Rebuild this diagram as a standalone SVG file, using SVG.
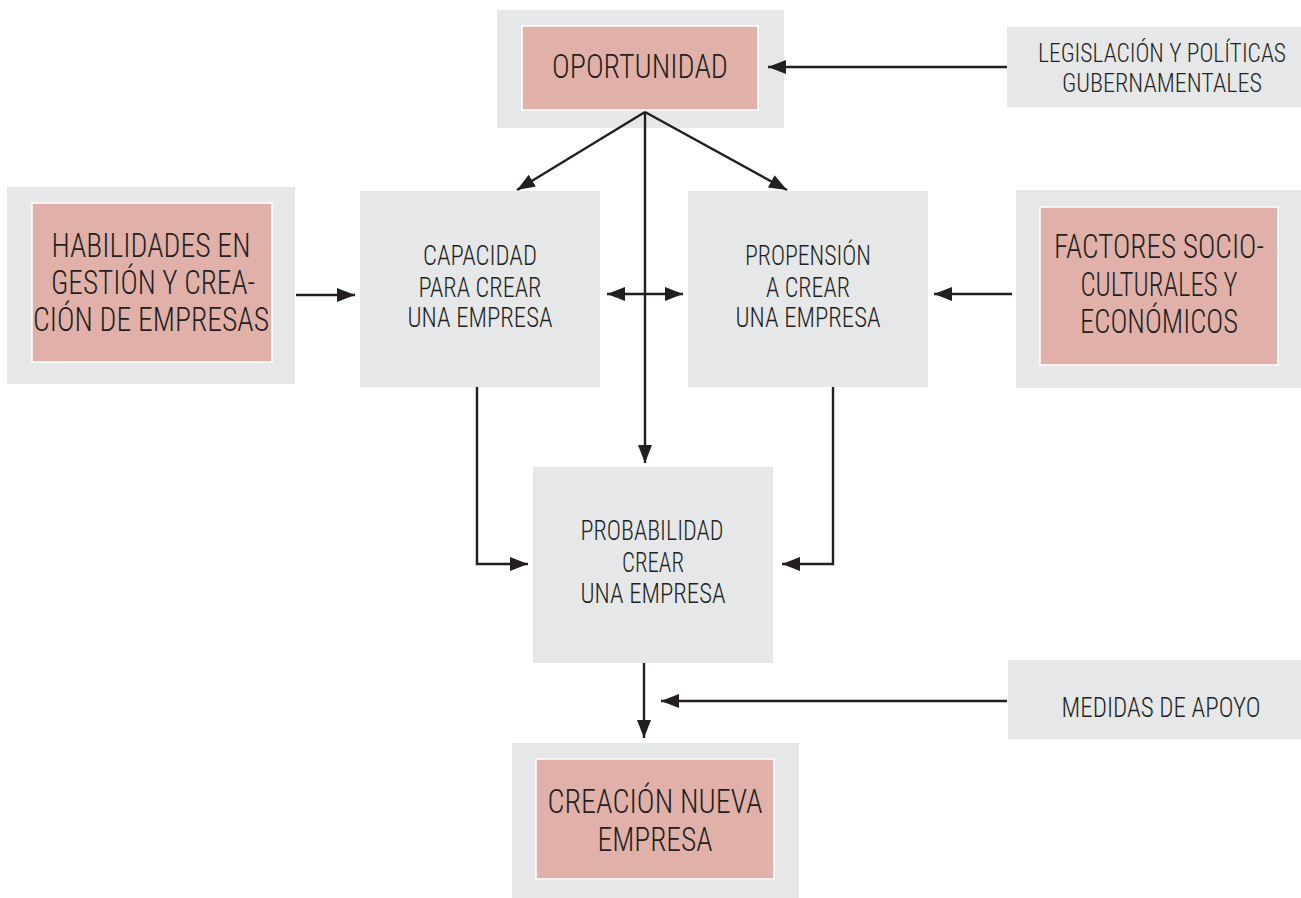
<svg xmlns="http://www.w3.org/2000/svg" width="1301" height="898" viewBox="0 0 1301 898">
<style>
.g{fill:#e6e7e8}
.p{fill:#e1b1a9;stroke:#ffffff;stroke-width:1.5}
.t{font-family:"Roboto Condensed",Roboto,"Liberation Sans",sans-serif;font-weight:300;fill:#231f20;text-anchor:middle}
.s{font-size:27px}
.m{font-size:26px}
.l{font-size:34px}
.c{fill:none;stroke:#231f20;stroke-width:2.4}
</style>
<defs>
<marker id="ah" viewBox="0 0 18 14" refX="18" refY="7" markerWidth="18" markerHeight="14" markerUnits="userSpaceOnUse" orient="auto-start-reverse">
<path d="M0,0 L18,7 L0,14 z" fill="#231f20"/>
</marker>
</defs>
<rect width="1301" height="898" fill="#ffffff"/>

<g id="oportunidad">
<rect class="g" x="497" y="10" width="287" height="118"/>
<rect class="p" x="522" y="26" width="236" height="84"/>
<text class="t l" x="640" y="78" textLength="176" lengthAdjust="spacingAndGlyphs">OPORTUNIDAD</text>
</g>

<g id="legislacion">
<rect class="g" x="1007" y="27" width="294" height="80"/>
<text class="t m" x="1162" y="62" textLength="248" lengthAdjust="spacingAndGlyphs">LEGISLACIÓN Y POLÍTICAS</text>
<text class="t m" x="1162" y="92" textLength="200" lengthAdjust="spacingAndGlyphs">GUBERNAMENTALES</text>
</g>

<g id="habilidades">
<rect class="g" x="7" y="187" width="288" height="197"/>
<rect class="p" x="32" y="203" width="240" height="159"/>
<text class="t l" x="151" y="257" textLength="199" lengthAdjust="spacingAndGlyphs">HABILIDADES EN</text>
<text class="t l" x="153" y="294" textLength="204" lengthAdjust="spacingAndGlyphs">GESTIÓN Y CREA-</text>
<text class="t l" x="151" y="331" textLength="236" lengthAdjust="spacingAndGlyphs">CIÓN DE EMPRESAS</text>
</g>

<g id="capacidad">
<rect class="g" x="360" y="191" width="240" height="196"/>
<text class="t s" x="480" y="265" textLength="114" lengthAdjust="spacingAndGlyphs">CAPACIDAD</text>
<text class="t s" x="480" y="297" textLength="123" lengthAdjust="spacingAndGlyphs">PARA CREAR</text>
<text class="t s" x="480" y="327" textLength="145" lengthAdjust="spacingAndGlyphs">UNA EMPRESA</text>
</g>

<g id="propension">
<rect class="g" x="688" y="191" width="240" height="196"/>
<text class="t s" x="808" y="265" textLength="126" lengthAdjust="spacingAndGlyphs">PROPENSIÓN</text>
<text class="t s" x="808" y="297" textLength="84" lengthAdjust="spacingAndGlyphs">A CREAR</text>
<text class="t s" x="808" y="327" textLength="145" lengthAdjust="spacingAndGlyphs">UNA EMPRESA</text>
</g>

<g id="factores">
<rect class="g" x="1016" y="190" width="285" height="198"/>
<rect class="p" x="1040" y="207" width="238" height="158"/>
<text class="t l" x="1159" y="258" textLength="210" lengthAdjust="spacingAndGlyphs">FACTORES SOCIO-</text>
<text class="t l" x="1159" y="296" textLength="157" lengthAdjust="spacingAndGlyphs">CULTURALES Y</text>
<text class="t l" x="1159" y="333" textLength="158" lengthAdjust="spacingAndGlyphs">ECONÓMICOS</text>
</g>

<g id="probabilidad">
<rect class="g" x="533" y="467" width="240" height="196"/>
<text class="t s" x="652" y="540" textLength="143" lengthAdjust="spacingAndGlyphs">PROBABILIDAD</text>
<text class="t s" x="653" y="572" textLength="62" lengthAdjust="spacingAndGlyphs">CREAR</text>
<text class="t s" x="653" y="603" textLength="145" lengthAdjust="spacingAndGlyphs">UNA EMPRESA</text>
</g>

<g id="medidas">
<rect class="g" x="1008" y="660" width="293" height="79"/>
<text class="t s" x="1161" y="717" textLength="199" lengthAdjust="spacingAndGlyphs">MEDIDAS DE APOYO</text>
</g>

<g id="creacion">
<rect class="g" x="512" y="743" width="287" height="155"/>
<rect class="p" x="536" y="759" width="238" height="120"/>
<text class="t l" x="655" y="813" textLength="215" lengthAdjust="spacingAndGlyphs">CREACIÓN NUEVA</text>
<text class="t l" x="655" y="851" textLength="115" lengthAdjust="spacingAndGlyphs">EMPRESA</text>
</g>

<g id="connectors">
<path class="c" d="M1007,67 L768,67" marker-end="url(#ah)"/>
<path class="c" d="M645,112 L517,190" marker-end="url(#ah)"/>
<path class="c" d="M645,112 L787,190" marker-end="url(#ah)"/>
<path class="c" d="M645,112 L645,463" marker-end="url(#ah)"/>
<path class="c" d="M296,295 L355,295" marker-end="url(#ah)"/>
<path class="c" d="M607,294 L683,294" marker-start="url(#ah)" marker-end="url(#ah)"/>
<path class="c" d="M1012,294 L934,294" marker-end="url(#ah)"/>
<path class="c" d="M477,387 L477,564 L528,564" marker-end="url(#ah)"/>
<path class="c" d="M833,387 L833,564 L782,564" marker-end="url(#ah)"/>
<path class="c" d="M644,663 L644,738" marker-end="url(#ah)"/>
<path class="c" d="M1007,701 L661,701" marker-end="url(#ah)"/>
</g>
</svg>
